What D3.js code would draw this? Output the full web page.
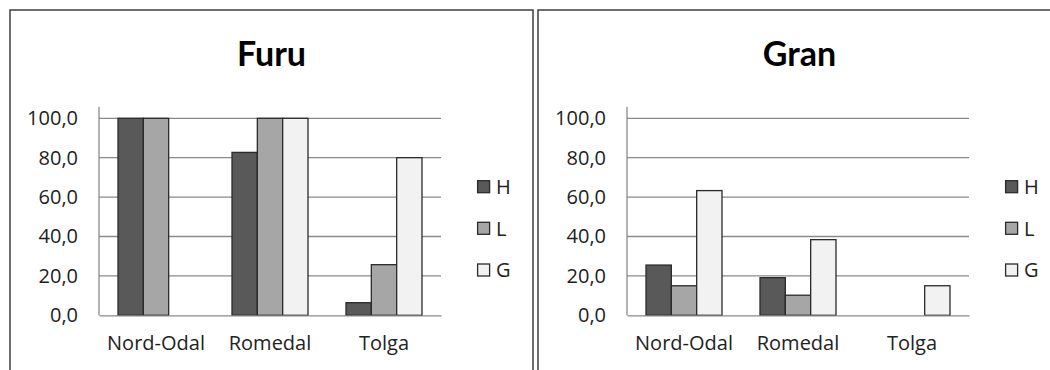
<!DOCTYPE html>
<html>
<head>
<meta charset="utf-8">
<script src="https://cdn.jsdelivr.net/npm/d3@7"></script>
<style>
  html, body { margin: 0; padding: 0; background: #fff; }
  svg { display: block; }
  text { font-family: "Open Sans", Lato, sans-serif; }
  .title { font-family: Lato, "Open Sans", sans-serif; }
</style>
</head>
<body>
<svg id="chart" width="1050" height="370"></svg>
<script>
// Share of samples per site, two tree species
const categories = ["Nord-Odal", "Romedal", "Tolga"];
const seriesNames = ["H", "L", "G"];
const seriesColors = ["#595959", "#a6a6a6", "#f2f2f2"];

const furuTitle = "Furu";
const furuH = [100, 82.7, 6.4];
const furuL = [100, 100, 25.7];
const furuG = [null, 100, 80];

const granTitle = "Gran";
const granH = [25.5, 19.1, null];
const granL = [15.0, 10.2, null];
const granG = [63.3, 38.4, 15.0];

const yTicks = [0, 20, 40, 60, 80, 100];

const panels = [
  { title: furuTitle, series: [furuH, furuL, furuG], frameX: 10 },
  { title: granTitle, series: [granH, granL, granG], frameX: 538 }
];

const svg = d3.select("#chart");
const frameW = 523, frameTop = 10;
const plotLeft = 89, plotW = 342, plotTop = 118.3, plotH = 197;
const labelFont = "'Open Sans', Lato, sans-serif";
const labelSize = 20;
const labelColor = "#222";

const fmt = d3.formatLocale({ decimal: ",", thousands: " ", grouping: [3], currency: ["", ""] }).format(".1f");

panels.forEach(p => {
  const g = svg.append("g");

  // chart frame
  g.append("rect")
    .attr("x", p.frameX).attr("y", frameTop)
    .attr("width", frameW).attr("height", 400)
    .attr("fill", "#fff").attr("stroke", "#3f3f3f").attr("stroke-width", 1.5);

  // title
  g.append("text")
    .attr("class", "title")
    .attr("x", p.frameX + frameW / 2).attr("y", 66)
    .attr("text-anchor", "middle")
    .attr("font-weight", "bold").attr("font-size", 34)
    .attr("fill", "#000")
    .text(p.title);

  const plot = g.append("g").attr("transform", `translate(${p.frameX + plotLeft},${plotTop})`);

  const x = d3.scaleBand().domain(categories).range([0, plotW]).padding(0);
  const xs = d3.scaleBand().domain(seriesNames).range([0, x.bandwidth()]).paddingInner(0).paddingOuter(0.75);
  const y = d3.scaleLinear().domain([0, 100]).range([plotH, 0]);

  // gridlines
  plot.append("g")
    .selectAll("line").data(yTicks.filter(t => t > 0)).join("line")
    .attr("x1", 0).attr("x2", plotW)
    .attr("y1", d => y(d)).attr("y2", d => y(d))
    .attr("stroke", "#8a8a8a").attr("stroke-width", 1.3);

  // y axis
  const yAxis = plot.append("g")
    .call(d3.axisLeft(y).tickValues(yTicks).tickFormat(fmt).tickSize(0).tickPadding(21));
  yAxis.select(".domain").remove();
  yAxis.selectAll("text")
    .attr("font-family", labelFont)
    .attr("font-size", labelSize).attr("fill", labelColor);
  plot.append("line")
    .attr("x1", 0).attr("x2", 0).attr("y1", -11.5).attr("y2", plotH)
    .attr("stroke", "#8a8a8a").attr("stroke-width", 1.3);

  // bars
  p.series.forEach((vals, si) => {
    plot.append("g")
      .selectAll("rect")
      .data(categories.map((c, i) => ({ c, v: vals[i] })).filter(d => d.v != null))
      .join("rect")
      .attr("x", d => x(d.c) + xs(seriesNames[si]))
      .attr("y", d => y(d.v))
      .attr("width", xs.bandwidth())
      .attr("height", d => plotH - y(d.v))
      .attr("fill", seriesColors[si])
      .attr("stroke", "#2a2a2a").attr("stroke-width", 1.3);
  });

  // x axis
  const xAxis = plot.append("g").attr("transform", `translate(0,${plotH})`)
    .call(d3.axisBottom(x).tickSize(0).tickPadding(21));
  xAxis.select(".domain").attr("stroke", "#8a8a8a").attr("stroke-width", 1.3);
  xAxis.selectAll("text")
    .attr("font-family", labelFont)
    .attr("font-size", labelSize).attr("fill", labelColor);

  // legend
  const leg = g.append("g").attr("transform", `translate(${p.frameX + plotLeft + plotW + 36},0)`);
  const legY = [186.7, 228.3, 270];
  seriesNames.forEach((s, i) => {
    leg.append("rect")
      .attr("x", 0.6).attr("y", legY[i] - 6)
      .attr("width", 12).attr("height", 12)
      .attr("fill", seriesColors[i]).attr("stroke", "#2a2a2a").attr("stroke-width", 1.3);
    leg.append("text")
      .attr("x", 19).attr("y", legY[i]).attr("dy", "0.36em")
      .attr("font-family", labelFont)
      .attr("font-size", labelSize).attr("fill", labelColor)
      .text(s);
  });
});
</script>
</body>
</html>
